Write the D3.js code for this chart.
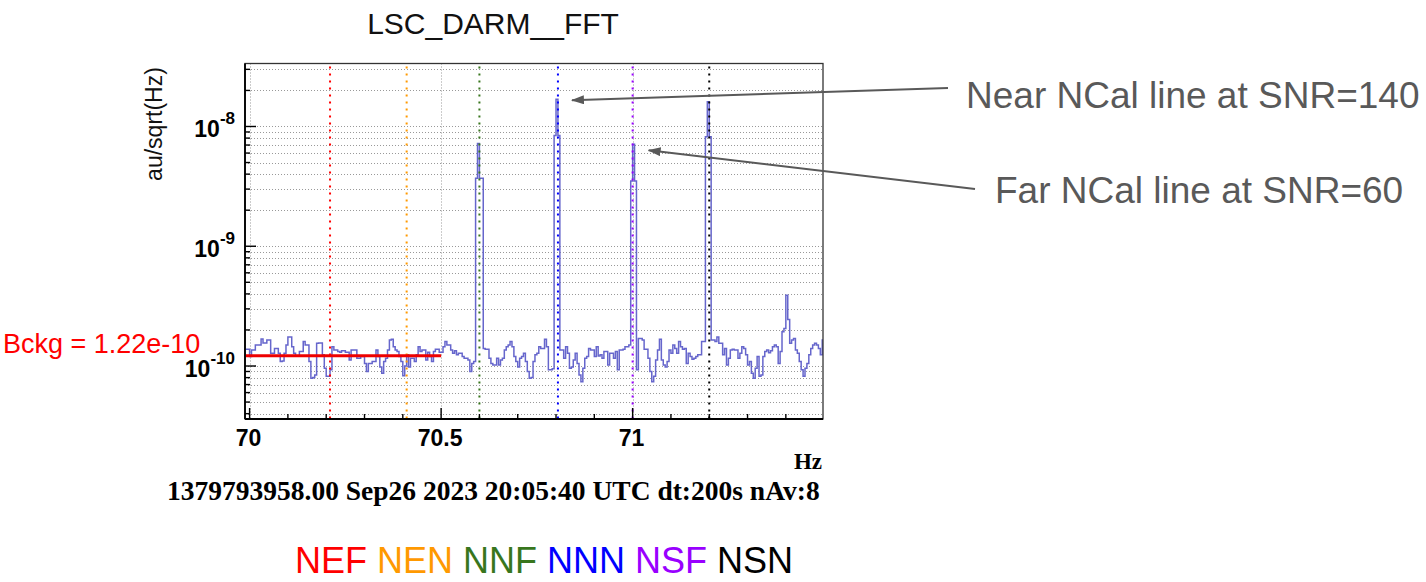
<!DOCTYPE html>
<html>
<head>
<meta charset="utf-8">
<script src="https://cdn.jsdelivr.net/npm/d3@7"></script>
<style>
body { margin: 0; background: #fff; }
svg { display: block; }
text { font-family: "Liberation Sans", Arial, sans-serif; }
</style>
</head>
<body>
<svg id="chart" width="1426" height="582"></svg>
<script>
// spectrum: first bin edge, bin width (Hz), amplitude per bin in units of 1e-10 au/sqrt(Hz)
const freqStart = 69.99;
const binWidth = 0.005;
const asd = [
    1.38,1.38,1.2,1.36,1.36,1.5,1.5,1.5,1.68,1.56,1.56,1.65,1.65,1.28,1.28,1.4,1.4,1.28,1.09,1.1,1.28,1.5,1.75,1.75,1.45,1.28,
    1.21,1.21,1.32,1.32,1.6,1.5,1.5,1.09,0.79,0.8,0.84,1.55,1.56,1.56,1.24,0.96,0.82,0.82,0.93,1.45,1.36,1.36,1.32,1.3,1.34,1.34,
    1.3,1.3,1.12,1.36,1.36,1.36,1.16,1.16,1.2,1.2,1.05,0.9,1.05,1.05,1.09,1.09,1.36,1.2,0.98,0.87,1.09,1.16,1.36,1.65,1.67,1.45,
    1.36,1.32,1.2,1.09,0.83,1.0,1.24,0.98,1.16,1.16,1.09,1.24,1.45,1.32,1.36,1.36,1.12,1.3,1.2,1.09,1.32,1.38,1.38,1.3,1.3,1.45,
    1.6,1.5,1.5,1.36,1.28,1.34,1.24,1.28,1.28,1.2,1.16,1.16,1.12,0.9,1.05,1.09,37,72,37,37,1.4,1.38,1.38,1.16,1.05,1.02,
    1.02,1.16,1.02,1.12,1.16,1.36,1.45,1.5,1.6,1.45,1.2,1.09,0.98,1.16,1.2,1.28,1.09,0.9,0.79,0.8,1.09,1.24,1.28,1.45,1.4,1.4,
    1.67,1.45,0.93,0.93,0.95,84,169,84,1.36,1.36,1.16,1.45,1.28,0.96,0.98,1.12,1.28,1.05,0.84,0.74,0.96,1.16,1.2,1.4,1.36,1.36,
    1.2,1.45,1.21,1.24,1.16,1.32,1.32,1.02,1.28,1.28,1.16,1.32,0.93,1.36,1.36,1.38,1.45,1.45,1.5,35,71,35,0.93,1.7,1.7,1.65,
    1.38,1.38,1.16,0.9,0.74,0.82,1.12,1.36,1.67,1.12,1.02,0.98,1.09,1.36,1.28,1.5,1.4,1.28,1.6,1.45,1.38,1.4,1.05,1.28,1.2,1.14,
    1.16,1.2,1.24,1.24,1.6,1.6,82,161,82,1.65,1.65,1.6,1.75,1.55,1.55,1.24,1.4,1.02,1.16,1.36,1.38,1.36,1.36,1.16,1.28,1.45,
    1.4,1.24,1.02,1.09,0.87,0.79,0.96,1.2,0.82,0.84,1.2,1.32,1.36,1.29,1.34,1.45,1.5,1.45,1.05,1.32,1.93,2.06,3.9,2.45,1.55,1.65,
    1.7,1.36,1.28,1.09,0.93,0.82,0.96,1.05,1.24,1.4,1.5,1.55,1.5,1.4,1.24,1.65
];

// NCal injection lines
const lineNames = ["NEF", "NEN", "NNF", "NNN", "NSF", "NSN"];
const lineFreqs = [70.21, 70.41, 70.6, 70.805, 71.0, 71.2];
const lineColors = ["#ff0000", "#ff9900", "#38761d", "#0000ff", "#9900ff", "#000000"];

const bckgLevel = 1.22e-10;
const bckgBand = [69.99, 70.5];
const bckgLabel = "Bckg = 1.22e-10";

const xMajor = [70, 70.5, 71];
const yDecades = [1e-10, 1e-9, 1e-8];

const notes = [
    { text: "Near NCal line at SNR=140", freq: 70.805, amp: 1.69e-8 },
    { text: "Far NCal line at SNR=60", freq: 71.0, amp: 7.1e-9 }
];

const titleText = "LSC_DARM__FFT";
const yLabel = "au/sqrt(Hz)";
const footer = "1379793958.00 Sep26 2023 20:05:40 UTC dt:200s nAv:8";

const svg = d3.select("#chart");
const L = 245, R = 823, T = 63.5, B = 419;

const x = d3.scaleLinear().domain([69.988, 71.497]).range([L, R]);
const y = d3.scaleLog().domain([3.61e-11, 3.357e-8]).range([B, T]);

const defs = svg.append("defs");
defs.append("clipPath").attr("id", "plot")
    .append("rect").attr("x", L).attr("y", T).attr("width", R - L).attr("height", B - T);
defs.append("marker").attr("id", "arrow")
    .attr("viewBox", "0 0 13 9").attr("refX", 12).attr("refY", 4.5)
    .attr("markerWidth", 13).attr("markerHeight", 9)
    .attr("markerUnits", "userSpaceOnUse").attr("orient", "auto")
    .append("path").attr("d", "M0,0L13,4.5L0,9Z").attr("fill", "#595959");

// grid
let yMinor = [];
for (let e = -11; e <= -8; e++) {
    for (let k = 1; k <= 9; k++) {
        let v = k * Math.pow(10, e);
        if (v > y.domain()[0] && v < y.domain()[1]) yMinor.push(v);
    }
}
let xMinor = d3.range(700, 715).map(d => d / 10);

let grid = svg.append("g").attr("stroke", "#999").attr("stroke-width", 1).attr("stroke-dasharray", "1,2");
grid.selectAll(".h").data(yMinor).join("line")
    .attr("x1", L).attr("x2", R)
    .attr("y1", d => Math.round(y(d)) + 0.5).attr("y2", d => Math.round(y(d)) + 0.5);
grid.selectAll(".v").data(xMajor).join("line")
    .attr("x1", d => Math.round(x(d)) + 0.5).attr("x2", d => Math.round(x(d)) + 0.5)
    .attr("y1", T).attr("y2", B);

// spectrum (step histogram)
let pts = asd.map((v, i) => [freqStart + i * binWidth, v * 1e-10]);
pts.push([freqStart + asd.length * binWidth, asd[asd.length - 1] * 1e-10]);
let step = d3.line().x(d => x(d[0])).y(d => y(d[1])).curve(d3.curveStepAfter);
svg.append("path").attr("clip-path", "url(#plot)")
    .attr("d", step(pts))
    .attr("fill", "none").attr("stroke", "#6666cc").attr("stroke-width", 1.5);

// injection line markers
svg.append("g").selectAll("line").data(lineFreqs).join("line")
    .attr("x1", d => x(d)).attr("x2", d => x(d))
    .attr("y1", T + 3).attr("y2", B)
    .attr("stroke", (d, i) => lineColors[i]).attr("stroke-width", 2)
    .attr("stroke-dasharray", "2,5");

// background level
svg.append("line")
    .attr("x1", x(bckgBand[0])).attr("x2", x(bckgBand[1]))
    .attr("y1", y(bckgLevel)).attr("y2", y(bckgLevel))
    .attr("stroke", "#ee0000").attr("stroke-width", 3);

// frame and ticks
svg.append("rect").attr("x", L).attr("y", T).attr("width", R - L).attr("height", B - T)
    .attr("fill", "none").attr("stroke", "#333").attr("stroke-width", 1.3);
svg.append("line").attr("x1", L).attr("x2", L).attr("y1", T).attr("y2", B).attr("stroke", "#000").attr("stroke-width", 1.8);
svg.append("line").attr("x1", L).attr("x2", R).attr("y1", B).attr("y2", B).attr("stroke", "#000").attr("stroke-width", 1.8);

let ticks = svg.append("g").attr("stroke", "#000").attr("stroke-width", 1.4);
ticks.selectAll(".yt").data(yMinor).join("line")
    .attr("x1", L).attr("x2", d => L + (yDecades.some(t => Math.abs(t - d) / d < 1e-6) ? 11 : 5))
    .attr("y1", d => y(d)).attr("y2", d => y(d));
ticks.selectAll(".xt").data(xMinor).join("line")
    .attr("x1", d => x(d)).attr("x2", d => x(d))
    .attr("y1", B).attr("y2", d => B - (xMajor.some(t => Math.abs(t - d) < 1e-6) ? 11 : 5));

// tick labels
let yl = svg.append("g").selectAll("text").data(yDecades).join("text")
    .attr("x", 235).attr("y", d => y(d) + 10.5)
    .attr("text-anchor", "end").attr("font-weight", "bold").attr("font-size", 23).attr("fill", "#000");
yl.append("tspan").text("10");
yl.append("tspan").attr("dy", -13).attr("font-size", 17).text(d => Math.round(Math.log10(d)));

svg.append("g").selectAll("text").data(xMajor).join("text")
    .attr("x", d => x(d) - 1).attr("y", 446)
    .attr("text-anchor", "middle").attr("font-weight", "bold").attr("font-size", 23)
    .text(d => d);

// titles
svg.append("text").attr("x", 493).attr("y", 34).attr("text-anchor", "middle")
    .attr("font-size", 30).attr("fill", "#111").text(titleText);
svg.append("text").attr("transform", "translate(162,124) rotate(-90)")
    .attr("text-anchor", "middle").attr("font-size", 23).attr("fill", "#111").text(yLabel);
svg.append("text").attr("x", 822).attr("y", 469).attr("text-anchor", "end")
    .style("font-family", "'Liberation Serif', 'Times New Roman', serif")
    .attr("font-weight", "bold").attr("font-size", 23).text("Hz");
svg.append("text").attr("x", 167).attr("y", 500)
    .style("font-family", "'Liberation Serif', 'Times New Roman', serif")
    .attr("font-weight", "bold").attr("font-size", 27.5).text(footer);

svg.append("text").attr("x", 3).attr("y", 353)
    .attr("font-size", 27).attr("fill", "#ff0000").text(bckgLabel);

// annotations
const noteText = [[966, 108], [995, 203]];
const noteFrom = [[948, 88], [975, 189]];
const noteOffset = [[14, 1], [16, 6]];
notes.forEach((n, i) => {
    svg.append("line")
        .attr("x1", noteFrom[i][0]).attr("y1", noteFrom[i][1])
        .attr("x2", x(n.freq) + noteOffset[i][0]).attr("y2", y(n.amp) + noteOffset[i][1])
        .attr("stroke", "#595959").attr("stroke-width", 2)
        .attr("marker-end", "url(#arrow)");
    svg.append("text").attr("x", noteText[i][0]).attr("y", noteText[i][1])
        .attr("font-size", 37).attr("fill", "#595959").text(n.text);
});

// legend
let lg = svg.append("text").attr("x", 544).attr("y", 573)
    .attr("text-anchor", "middle").attr("font-size", 36);
lineNames.forEach((nm, i) => {
    lg.append("tspan").attr("fill", lineColors[i]).text((i > 0 ? " " : "") + nm);
});
</script>
</body>
</html>
